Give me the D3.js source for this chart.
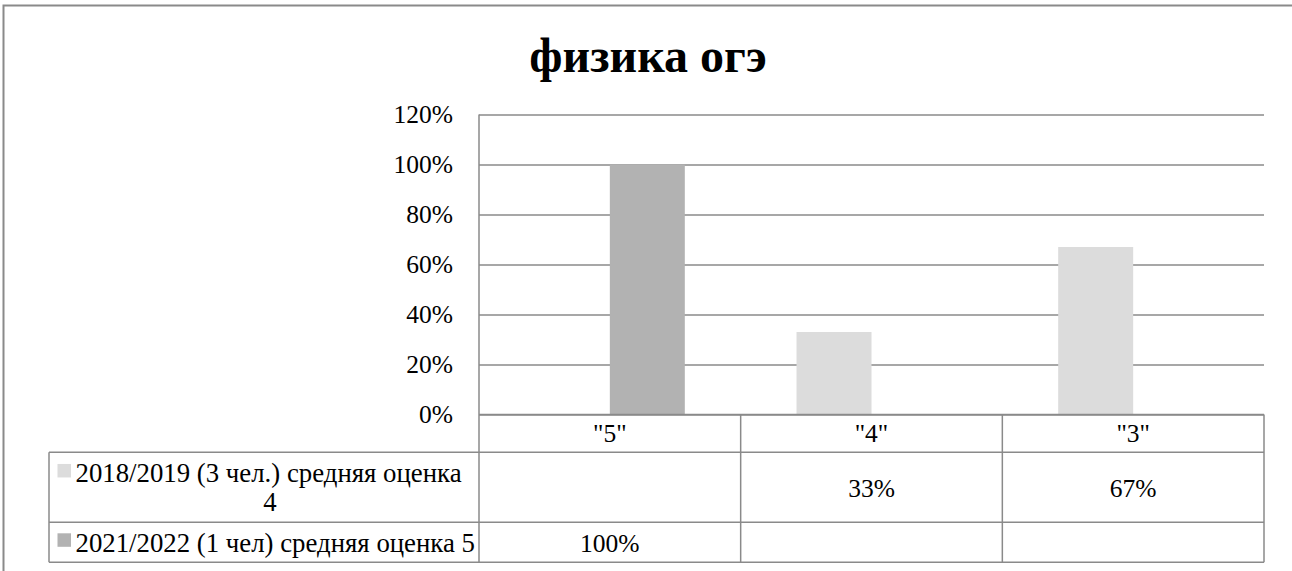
<!DOCTYPE html>
<html>
<head>
<meta charset="utf-8">
<title>физика огэ</title>
<script src="https://cdnjs.cloudflare.com/ajax/libs/d3/7.8.5/d3.min.js"></script>
<style>
  html, body { margin: 0; padding: 0; background: #fff; }
  svg { display: block; }
  svg text { font-family: "Liberation Serif", "Times New Roman", "DejaVu Serif", serif; fill: #000; }
  .grid line { stroke: #8a8a8a; stroke-width: 1.5; }
  .grid .domain { display: none; }
  .grid text { font-size: 25.5px; }
  .tbl line { stroke: #8a8a8a; stroke-width: 1.5; }
  .tbl text { font-size: 25.5px; }
  .tbl text.legend { font-size: 26.8px; }
  .title { font-size: 48px; font-weight: bold; }
</style>
</head>
<body>
<svg id="chart" width="1292" height="571"></svg>
<script>
// chart data
var title = 'физика огэ';
var categories = ['"5"', '"4"', '"3"'];
var seriesNames = ['2018/2019 (3 чел.) средняя оценка 4', '2021/2022 (1 чел) средняя оценка 5'];
var values2018 = [null, 0.33, 0.67];
var values2022 = [1.00, null, null];
var yTicks = [0, 0.2, 0.4, 0.6, 0.8, 1.0, 1.2];
var seriesColors = ['#dcdcdc', '#b2b2b2'];

var seriesValues = [values2018, values2022];

var W = 1292, H = 571;
var plot = { left: 479, right: 1264, top: 114.5, bottom: 414.5 };
var table = { left: 49, rows: [452.3, 522.3, 562.3] };

var svg = d3.select('#chart');

// outer frame (runs off the right and bottom of the shot)
svg.append('rect')
  .attr('x', 3.5).attr('y', 5.5)
  .attr('width', W + 20).attr('height', H + 20)
  .attr('fill', 'none').attr('stroke', '#8a8a8a').attr('stroke-width', 2);

svg.append('text')
  .attr('class', 'title')
  .attr('x', 648).attr('y', 72)
  .attr('text-anchor', 'middle')
  .text(title);

var x0 = d3.scaleBand().domain(categories).range([plot.left, plot.right]).padding(0);
var x1 = d3.scaleBand().domain(d3.range(seriesNames.length))
  .range([0, x0.bandwidth()]).paddingInner(0).paddingOuter(0.745);
var y = d3.scaleLinear().domain([0, 1.2]).range([plot.bottom, plot.top]);

// gridlines + tick labels
var yAxis = svg.append('g')
  .attr('class', 'grid')
  .attr('transform', 'translate(' + plot.left + ',0)')
  .call(d3.axisLeft(y).tickValues(yTicks).tickSize(-(plot.right - plot.left))
    .tickPadding(26).tickFormat(d3.format('.0%')));
yAxis.attr('font-family', null).attr('font-size', null);

// bars
seriesValues.forEach(function(vals, s) {
  svg.append('g').selectAll('rect')
    .data(vals.map(function(v, i) { return { cat: categories[i], v: v }; })
      .filter(function(d) { return d.v != null; }))
    .enter().append('rect')
    .attr('x', function(d) { return x0(d.cat) + x1(s); })
    .attr('width', x1.bandwidth())
    .attr('y', function(d) { return y(d.v); })
    .attr('height', function(d) { return y(0) - y(d.v); })
    .attr('fill', seriesColors[s]);
});

// data table under the plot
var tbl = svg.append('g').attr('class', 'tbl');
var colEdges = categories.map(function(c) { return x0(c) + x0.bandwidth(); });

// y axis line runs down through the table
tbl.append('line').attr('x1', plot.left).attr('x2', plot.left)
  .attr('y1', plot.top).attr('y2', table.rows[2]);
tbl.append('line').attr('x1', plot.left).attr('x2', plot.right)
  .attr('y1', plot.bottom).attr('y2', plot.bottom);
colEdges.forEach(function(xe) {
  tbl.append('line').attr('x1', xe).attr('x2', xe)
    .attr('y1', plot.bottom).attr('y2', table.rows[2]);
});
tbl.append('line').attr('x1', table.left).attr('x2', table.left)
  .attr('y1', table.rows[0]).attr('y2', table.rows[2]);
table.rows.forEach(function(ry) {
  tbl.append('line').attr('x1', table.left).attr('x2', plot.right)
    .attr('y1', ry).attr('y2', ry);
});

// header row
categories.forEach(function(c) {
  tbl.append('text')
    .attr('x', x0(c) + x0.bandwidth() / 2)
    .attr('y', (plot.bottom + table.rows[0]) / 2)
    .attr('dy', '0.35em')
    .attr('text-anchor', 'middle')
    .text(c);
});

var pct = d3.format('.0%');
var lineH = 28.7;
var textLeft = 75.5;
var legendMax = plot.left - textLeft - 2;

seriesNames.forEach(function(name, s) {
  var top = table.rows[s], bot = table.rows[s + 1], mid = (top + bot) / 2;

  // wrap legend label to the cell
  var words = name.split(' ');
  var probe = tbl.append('text').attr('class', 'legend');
  var lines = [], cur = '';
  words.forEach(function(w) {
    var t = cur ? cur + ' ' + w : w;
    probe.text(t);
    if (probe.node().getComputedTextLength() > legendMax && cur) { lines.push(cur); cur = w; }
    else cur = t;
  });
  lines.push(cur);
  probe.remove();

  var n = lines.length;
  lines.forEach(function(ln, i) {
    var base = mid + (i - (n - 1) / 2) * lineH + 9.5;
    if (i === 0) {
      tbl.append('rect').attr('x', 57.5).attr('y', base - 18.5)
        .attr('width', 13.5).attr('height', 13.5).attr('fill', seriesColors[s]);
      tbl.append('text').attr('class', 'legend').attr('x', textLeft).attr('y', base).text(ln);
    } else {
      tbl.append('text').attr('class', 'legend').attr('x', 270).attr('y', base)
        .attr('text-anchor', 'middle').text(ln);
    }
  });

  seriesValues[s].forEach(function(v, i) {
    if (v == null) return;
    tbl.append('text')
      .attr('x', x0(categories[i]) + x0.bandwidth() / 2)
      .attr('y', mid).attr('dy', '0.38em')
      .attr('text-anchor', 'middle')
      .text(pct(v));
  });
});
</script>
</body>
</html>
